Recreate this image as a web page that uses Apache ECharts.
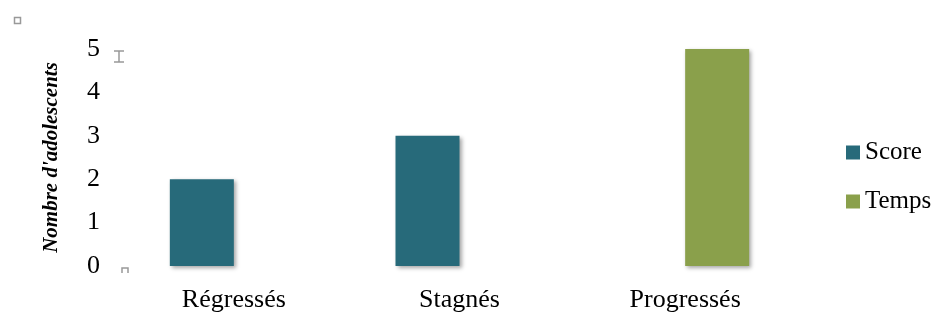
<!DOCTYPE html>
<html>
<head>
<meta charset="utf-8">
<script src="https://cdn.jsdelivr.net/npm/echarts@6/dist/echarts.min.js"></script>
<style>
  html, body { margin: 0; padding: 0; background: #fff; }
  #chart { width: 935px; height: 313px; }
</style>
</head>
<body>
<div id="chart"></div>
<script>
// data
const categories = ['Régressés', 'Stagnés', 'Progressés'];
const scoreValues = [2, 3, null];
const tempsValues = [null, null, 5];
const yTicks = [0, 1, 2, 3, 4, 5];

const chart = echarts.init(document.getElementById('chart'));
const serif = '"Liberation Serif", "DejaVu Serif", serif';

// bar shadow like the office chart
const barShadow = {
    shadowColor: 'rgba(0, 0, 0, 0.35)',
    shadowBlur: 4,
    shadowOffsetX: 2,
    shadowOffsetY: 2
};

chart.setOption({
    animation: false,
    grid: { left: 121, right: 137, top: 49, bottom: 45 },
    legend: {
        orient: 'vertical',
        left: 846,
        top: 140,
        padding: 0,
        itemWidth: 14,
        itemHeight: 14,
        itemGap: 24,
        icon: 'rect',
        textStyle: { fontFamily: serif, fontSize: 25, color: '#000' },
        data: ['Score', 'Temps']
    },
    xAxis: {
        type: 'category',
        data: categories,
        axisLine: { show: false },
        axisTick: { show: false },
        axisLabel: { fontFamily: serif, fontSize: 26, color: '#000', margin: 21 }
    },
    yAxis: {
        type: 'value',
        min: yTicks[0],
        max: yTicks[yTicks.length - 1],
        interval: 1,
        name: "Nombre d'adolescents",
        nameLocation: 'middle',
        nameGap: 59,
        nameTextStyle: {
            fontFamily: serif, fontSize: 21, fontStyle: 'italic',
            fontWeight: 'bold', color: '#000'
        },
        axisLine: { show: false },
        axisTick: { show: false },
        splitLine: { show: false },
        axisLabel: { fontFamily: serif, fontSize: 26, color: '#000', margin: 21 }
    },
    series: [
        {
            name: 'Score',
            type: 'bar',
            data: scoreValues,
            barWidth: 64,
            barGap: '0%',
            itemStyle: Object.assign({ color: '#276A7A' }, barShadow)
        },
        {
            name: 'Temps',
            type: 'bar',
            data: tempsValues,
            barWidth: 64,
            itemStyle: Object.assign({ color: '#8AA04B' }, barShadow)
        }
    ],
    // stray handle glyphs seen in the picture
    graphic: [
        { type: 'rect', left: 12, top: 15, shape: { width: 6, height: 6 },
          style: { fill: 'none', stroke: '#999', lineWidth: 1.5 } },
        { type: 'polyline', shape: { points: [[114, 51], [124, 51]] }, style: { stroke: '#999', lineWidth: 1.5 } },
        { type: 'polyline', shape: { points: [[119, 51], [119, 62]] }, style: { stroke: '#999', lineWidth: 1.5 } },
        { type: 'polyline', shape: { points: [[114, 62], [124, 62]] }, style: { stroke: '#999', lineWidth: 1.5 } },
        { type: 'polyline', shape: { points: [[122, 273], [122, 268], [128, 268], [128, 273]] },
          style: { fill: 'none', stroke: '#999', lineWidth: 1.5 } }
    ]
});
</script>
</body>
</html>
